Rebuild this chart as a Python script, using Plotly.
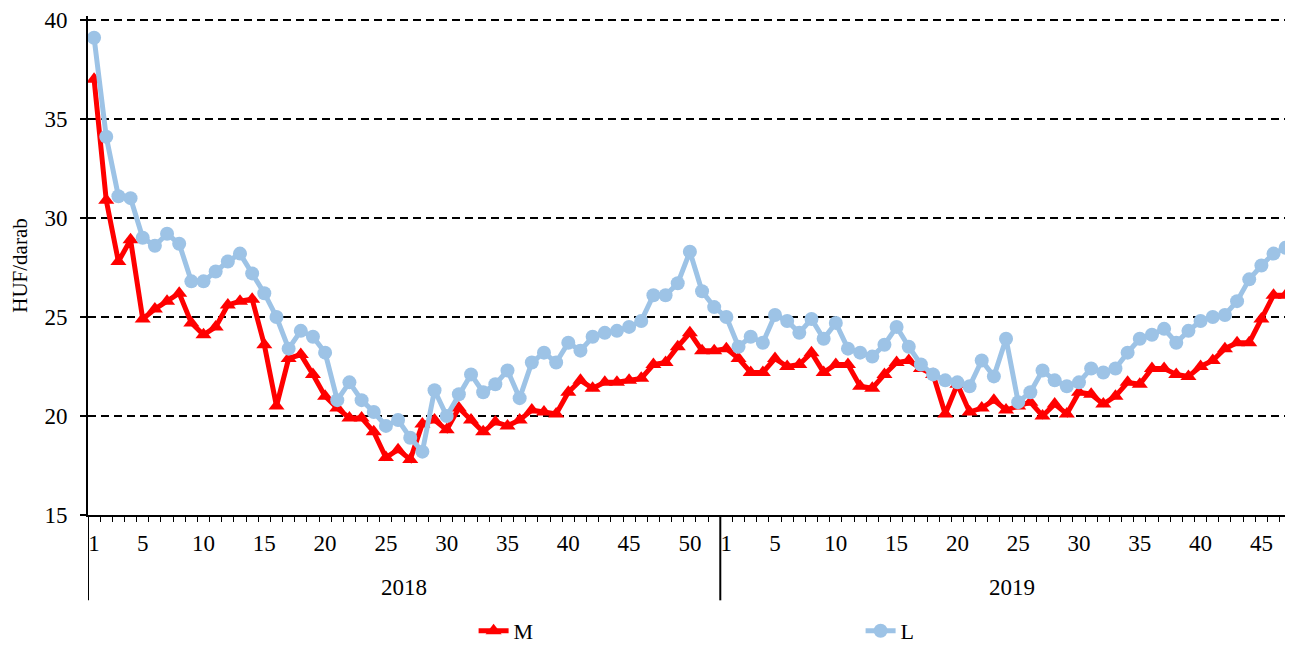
import plotly.graph_objects as go

years = ["2018", "2019"]
weeks_2018 = list(range(1, 53))
weeks_2019 = list(range(1, 49))
tick_weeks = [1, 5, 10, 15, 20, 25, 30, 35, 40, 45, 50]

m_2018 = [37.0, 30.9, 27.8, 28.9, 24.9, 25.4, 25.8, 26.2, 24.7, 24.1,
          24.5, 25.6, 25.8, 25.9, 23.6, 20.5, 22.9, 23.1, 22.1, 21.0,
          20.4, 19.9, 19.9, 19.2, 17.9, 18.3, 17.8, 19.6, 19.8, 19.3,
          20.4, 19.8, 19.2, 19.7, 19.5, 19.8, 20.3, 20.2, 20.1, 21.2,
          21.8, 21.4, 21.7, 21.7, 21.8, 21.9, 22.6, 22.7, 23.5, 24.2,
          23.3, 23.3]
l_2018 = [39.1, 34.1, 31.1, 31.0, 29.0, 28.6, 29.2, 28.7, 26.8, 26.8,
          27.3, 27.8, 28.2, 27.2, 26.2, 25.0, 23.4, 24.3, 24.0, 23.2,
          20.8, 21.7, 20.8, 20.2, 19.5, 19.8, 18.9, 18.2, 21.3, 20.0,
          21.1, 22.1, 21.2, 21.6, 22.3, 20.9, 22.7, 23.2, 22.7, 23.7,
          23.3, 24.0, 24.2, 24.3, 24.5, 24.8, 26.1, 26.1, 26.7, 28.3,
          26.3, 25.5]
m_2019 = [23.4, 22.9, 22.2, 22.2, 22.9, 22.5, 22.6, 23.2, 22.2, 22.6,
          22.6, 21.5, 21.4, 22.1, 22.7, 22.8, 22.4, 22.1, 20.1, 21.6,
          20.2, 20.4, 20.8, 20.3, 20.5, 20.7, 20.0, 20.6, 20.1, 21.2,
          21.1, 20.6, 21.0, 21.7, 21.6, 22.4, 22.4, 22.1, 22.0, 22.5,
          22.8, 23.4, 23.7, 23.7, 24.9, 26.1, 26.1, 25.8]
l_2019 = [25.0, 23.5, 24.0, 23.7, 25.1, 24.8, 24.2, 24.9, 23.9, 24.7,
          23.4, 23.2, 23.0, 23.6, 24.5, 23.5, 22.6, 22.1, 21.8, 21.7,
          21.5, 22.8, 22.0, 23.9, 20.7, 21.2, 22.3, 21.8, 21.5, 21.7,
          22.4, 22.2, 22.4, 23.2, 23.9, 24.1, 24.4, 23.7, 24.3, 24.8,
          25.0, 25.1, 25.8, 26.9, 27.6, 28.2, 28.5, 28.0]

weeks = weeks_2018 + weeks_2019
x = list(range(len(weeks)))
M = m_2018 + m_2019
L = l_2018 + l_2019

tickvals = [i for i, w in enumerate(weeks) if w in tick_weeks]
ticktext = [str(weeks[i]) for i in tickvals]

FONT = "Liberation Serif, Times New Roman, serif"
FS = 23

fig = go.Figure()
fig.add_trace(go.Scatter(
    x=x, y=M, name="M", mode="lines+markers",
    line=dict(color="#FF0000", width=5),
    marker=dict(symbol="triangle-up", size=14, color="#FF0000"),
))
fig.add_trace(go.Scatter(
    x=x, y=L, name="L", mode="lines+markers",
    line=dict(color="#9DC3E6", width=5),
    marker=dict(symbol="circle", size=14, color="#9DC3E6"),
))

n18 = len(weeks_2018)
n19 = len(weeks_2019)
bounds = [-0.5, n18 - 0.5]
for b in bounds:
    fig.add_shape(type="line", xref="x", yref="paper", x0=b, x1=b, y0=0, y1=-0.171,
                  line=dict(color="black", width=2))

centers = [(n18 - 1) / 2, n18 + (n19 - 1) / 2]
for yr, c in zip(years, centers):
    fig.add_annotation(x=c, y=0, xref="x", yref="paper", text=yr, showarrow=False,
                       yanchor="middle", yshift=-72, font=dict(family=FONT, size=FS, color="black"))

fig.update_layout(
    width=1285, height=637,
    margin=dict(l=80, r=0, t=8, b=130, autoexpand=False),
    paper_bgcolor="white", plot_bgcolor="white",
    font=dict(family=FONT, size=FS, color="black"),
    showlegend=True,
    legend=dict(orientation="h", x=0.32, xanchor="left", y=-0.2325, yanchor="middle",
                entrywidth=342, entrywidthmode="pixels", font=dict(family=FONT, size=22)),
    xaxis=dict(range=[-0.5, 98.6], tickmode="array", tickvals=tickvals, ticktext=ticktext,
               ticks="", showgrid=False, zeroline=False, showline=True, linecolor="black",
               linewidth=2, ticklabelstandoff=6,
               minor=dict(tickmode="array", tickvals=[i - 0.5 for i in range(len(weeks) + 1)],
                          ticks="outside", ticklen=5, tickwidth=1, tickcolor="black", showgrid=False)),
    yaxis=dict(range=[15, 40.2], tickvals=[15, 20, 25, 30, 35, 40], showgrid=True, gridcolor="black",
               gridwidth=1.5, griddash="8px,5px", zeroline=False, showline=True, linecolor="black",
               linewidth=2, ticks="outside", ticklen=6, tickcolor="black", tickwidth=1.5,
               ticklabelstandoff=8,
               title=dict(text="HUF/darab", standoff=14, font=dict(family=FONT, size=21))),
)

fig.write_html("out.html")
